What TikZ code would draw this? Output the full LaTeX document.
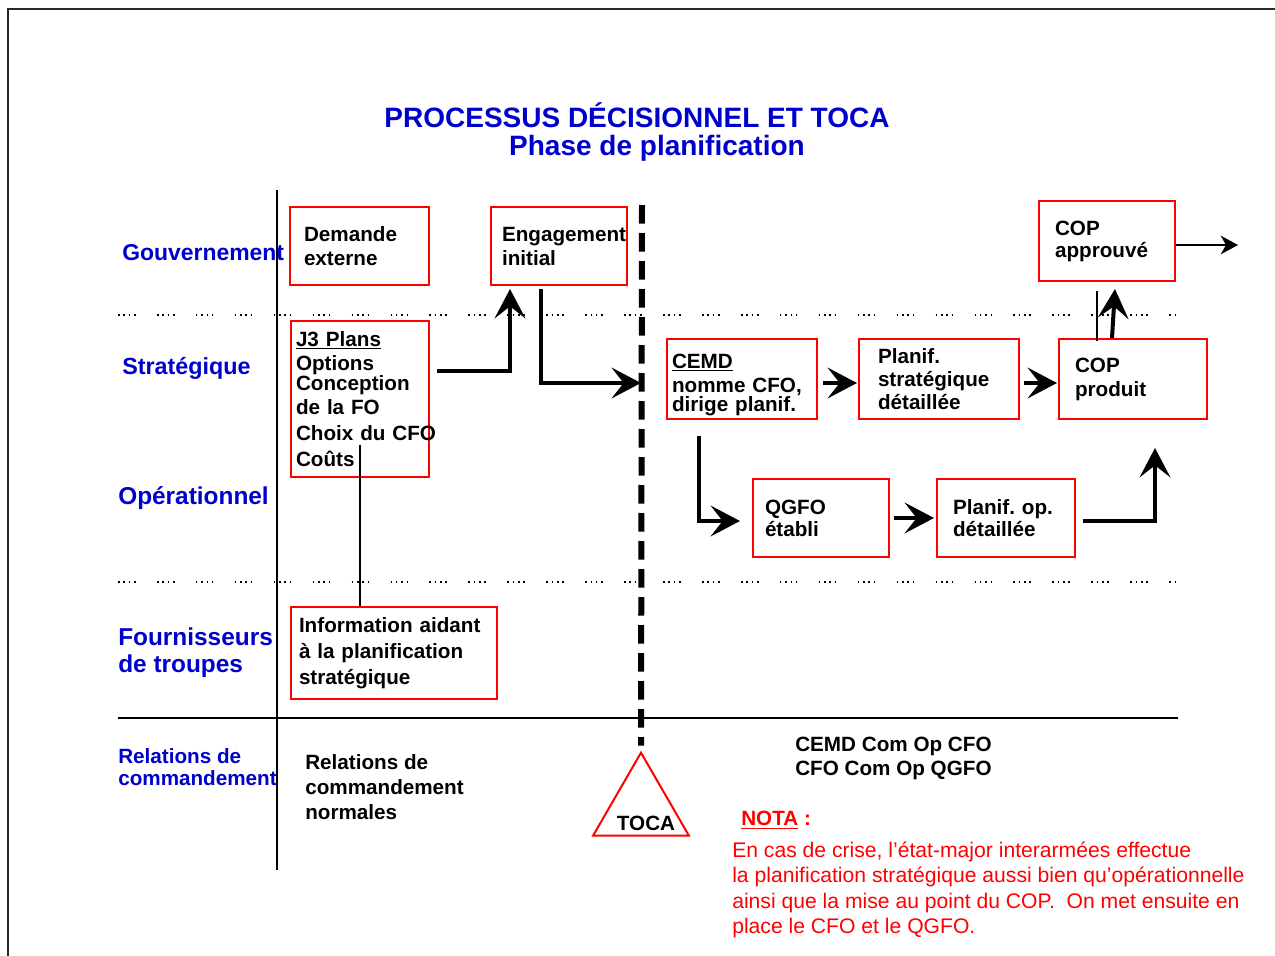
\documentclass[tikz,border=0pt]{standalone}
\usepackage{fontspec}
\setmainfont{Liberation Sans}
\usetikzlibrary{arrows.meta,calc,shapes.geometric}
\definecolor{lblue}{RGB}{0,0,204}
\definecolor{bred}{RGB}{255,0,0}
\definecolor{frame}{RGB}{40,40,40}
\frenchspacing

\tikzset{
  box/.style n args={4}{draw=bred, line width=1.5pt, inner ysep=0pt,
    minimum width=#1, minimum height=#2, inner xsep=#3, text width=#4,
    align=left, font=\bfseries\fontsize{15.5}{18}\selectfont},
  lane/.style={text=lblue, anchor=west, inner sep=0pt, align=left,
    font=\bfseries\fontsize{17.5}{20}\selectfont},
  plain/.style={anchor=west, inner sep=0pt, align=left,
    font=\bfseries\fontsize{15.5}{18}\selectfont},
  flow/.style={line width=3pt, -{Stealth[length=22pt,width=23pt,inset=9pt]}},
  thinflow/.style={line width=1.2pt, -{Stealth[length=13pt,width=14pt,inset=4pt]}},
  sep/.style={line width=1.2pt, dash pattern=on 1.2pt off 2.8pt on 1.2pt off 2.8pt on 1.2pt off 2.8pt on 1.2pt off 16pt},
  rule/.style={line width=1.5pt},
  tocaline/.style={line width=4.5pt, dash pattern=on 14pt off 7pt},
}

\begin{document}
\begin{tikzpicture}[x=0.75pt,y=-0.75pt]
\useasboundingbox (0,0) rectangle (1275,956);

% page frame (top and left edges)
\draw[frame, line width=1.6pt] (8,956) -- (8,9) -- (1275,9);

% title
\node[text=lblue, font=\bfseries\fontsize{21}{24}\selectfont] (title) at (637,115) {PROCESSUS DÉCISIONNEL ET TOCA};
\node[text=lblue, font=\bfseries\fontsize{21}{24}\selectfont] (subtitle) at (657,148) {Phase de planification};

% grid lines
\draw[rule] (277,190) -- (277,870);
\draw[rule] (118,718) -- (1178,718);
\draw[sep] (118,315) -- (1178,315);
\draw[sep] (118,582) -- (1178,582);

% lane labels
\node[lane, font=\bfseries\fontsize{17.2}{20}\selectfont] (gov) at (122,253) {Gouvernement};
\node[lane] (strat) at (122,368) {Stratégique};
\node[lane, font=\bfseries\fontsize{18.3}{20}\selectfont] (oper) at (118,498) {Opérationnel};
\node[lane, font=\bfseries\fontsize{18.3}{20}\selectfont] (fourn) at (118,653) {Fournisseurs\\de troupes};
\node[lane, font=\bfseries\fontsize{15.5}{17}\selectfont] (relc) at (118,767) {Relations de\\commandement};

% process boxes
\node[box={104.25pt}{58.5pt}{10.5pt}{83.25pt}] (dem) at (359.5,246) {Demande\\externe};
\node[box={102pt}{58.5pt}{8.25pt}{85.5pt}] (eng) at (559,246) {\makebox[85.5pt][l]{Engagement}\\initial};
\node[box={103.5pt}{117pt}{3.75pt}{96pt}] (j3) at (360,399)
  {\underline{J3 Plans}\\Options\\[-3pt]Conception\\de la FO\\[1.5pt]\makebox[96pt][l]{Choix du CFO}\\[1.5pt]Coûts};
\node[box={154.5pt}{69pt}{6pt}{142.5pt}, font=\bfseries\fontsize{15.5}{19.5}\selectfont] (info) at (394,653)
  {Information aidant\\à la planification\\stratégique};
\node[box={112.5pt}{60pt}{3.75pt}{105pt}] (cemd) at (742,379)
  {\rule{0pt}{20pt}\underline{CEMD}\\nomme CFO,\\[-3.5pt]dirige planif.};
\node[box={120pt}{60pt}{14.25pt}{91.5pt}, font=\bfseries\fontsize{15.5}{17}\selectfont] (pstrat) at (939,379)
  {Planif.\\stratégique\\détaillée};
\node[box={111pt}{60pt}{12pt}{87pt}] (copp) at (1133,379) {COP\\produit};
\node[box={102pt}{60pt}{12pt}{78pt}, font=\bfseries\fontsize{15.5}{16.5}\selectfont] (copa) at (1107,241) {COP\\approuvé};
\node[box={102pt}{58.5pt}{9pt}{84pt}, font=\bfseries\fontsize{15.5}{16.5}\selectfont] (qgfo) at (821,518) {QGFO\\établi};
\node[box={103.5pt}{58.5pt}{12pt}{79.5pt}, font=\bfseries\fontsize{15.5}{16.5}\selectfont] (pop) at (1006,518) {Planif. op.\\détaillée};

% TOCA marker
\node[draw=bred, line width=1.5pt, regular polygon, regular polygon sides=3,
      minimum size=83pt, inner sep=0pt] (toca) at (641,808) {};
\node[font=\bfseries\fontsize{15.5}{18}\selectfont, inner sep=0pt] (tocatxt) at (646,823) {TOCA};
\coordinate (tocatop) at (642,205);
\draw[tocaline] (tocatop) -- ($(toca.north)+(0,-5)$);
\coordinate (tocain) at (641,383);
\coordinate (copaout) at (1238,245);

% connectors
\draw[flow] ($(j3.east)+(7,-28)$) -| ($(eng.south)+(-49,3)$);
\draw[flow] ($(eng.south)+(-18,3)$) |- (tocain);
\draw[flow] ($(cemd.south)+(-43,16)$) |- ($(qgfo.west)+(-12,3)$);
\draw[flow] ($(cemd.east)+(5,4)$) -- ($(pstrat.west)+(-1,4)$);
\draw[flow] ($(pstrat.east)+(4,4)$) -- ($(copp.west)+(-1,4)$);
\draw[flow] ($(qgfo.east)+(4,0)$) -- ($(pop.west)+(-2,0)$);
\draw[flow] ($(pop.east)+(7,3)$) -| ($(copp.south)+(22,28)$);
\draw[flow] ($(copp.north)+(-21,0)$) -- ($(copa.south)+(8,7)$);
\draw[line width=1pt] ($(copa.south)+(-10,9)$) -- ($(copp.north)+(-36,3)$);
\draw[thinflow] ($(copa.east)+(0,4)$) -- (copaout);
\draw[line width=1.2pt] ($(j3.center)+(0,46)$) -- (info.north -| j3.center);

% command relationships
\node[plain, font=\bfseries\fontsize{15.5}{18.75}\selectfont] (relnorm) at (305,787)
  {Relations de\\commandement\\normales};
\node[plain] (comop) at (795,758) {CEMD Com Op CFO\\CFO Com Op QGFO};

% note
\node[plain, text=bred] (nota) at (741,820) {\underline{NOTA} :};
\node[anchor=west, inner sep=0pt, align=left, text=bred, font=\fontsize{15.85}{19.2}\selectfont] (notatxt) at (732,890)
  {En cas de crise, l’état-major interarmées effectue\\
   la planification stratégique aussi bien qu’opérationnelle\\
   ainsi que la mise au point du COP.\ \ On met ensuite en\\
   place le CFO et le QGFO.};
\end{tikzpicture}
\end{document}
